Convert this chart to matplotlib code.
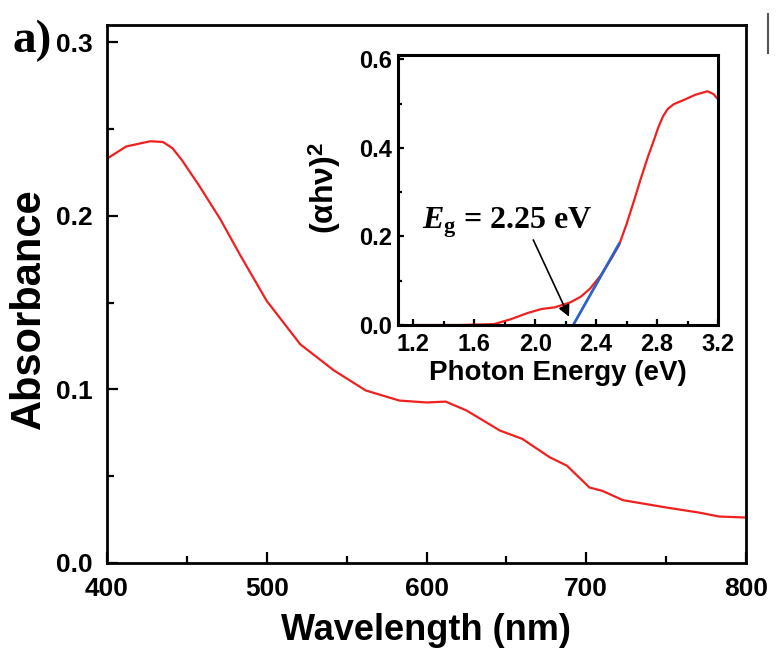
import matplotlib
matplotlib.use('Agg')
import matplotlib.pyplot as plt
from matplotlib.lines import Line2D
from matplotlib.ticker import MultipleLocator, FormatStrFormatter

plt.rcParams['font.family'] = ['Liberation Sans', 'DejaVu Sans']
plt.rcParams['font.weight'] = 'bold'
plt.rcParams['mathtext.fontset'] = 'custom'
plt.rcParams['mathtext.it'] = 'Liberation Serif:italic:bold'
plt.rcParams['mathtext.rm'] = 'Liberation Serif:bold'

# Espectro de absorbancia
wavelength = [400, 412, 427, 435, 441, 447, 458, 471, 483, 500, 521, 542, 562, 583, 600,
              612, 625, 646, 660, 677, 688, 702, 710, 723, 750, 771, 783, 800]
absorbance = [0.233, 0.240, 0.243, 0.2426, 0.239, 0.232, 0.217, 0.198, 0.178, 0.151, 0.126,
              0.111, 0.0994, 0.0936, 0.0925, 0.093, 0.0879, 0.0763, 0.0715, 0.061,
              0.056, 0.0435, 0.0416, 0.0362, 0.032, 0.029, 0.0268, 0.0262]

# Tauc plot (inset)
energy = [1.2, 1.5, 1.73, 1.84, 1.95, 2.04, 2.13, 2.23, 2.30, 2.36, 2.43, 2.50, 2.55,
          2.60, 2.65, 2.69, 2.74, 2.78, 2.81, 2.84, 2.87, 2.91, 2.98, 3.05, 3.13, 3.17, 3.2]
tauc = [0.0, 0.0, 0.002, 0.013, 0.027, 0.036, 0.040, 0.051, 0.064, 0.082, 0.112, 0.150,
        0.180, 0.228, 0.282, 0.327, 0.38, 0.418, 0.448, 0.472, 0.488, 0.499, 0.509, 0.52,
        0.528, 0.522, 0.51]

# Ajuste lineal del borde
fit_x = [2.25, 2.55]
fit_y = [0.0, 0.183]
eg = 2.25

W, H = 782, 670
fig = plt.figure(figsize=(W / 100, H / 100), dpi=100)

red = '#f02020'
blue = '#2a62c8'

# Plot principal
ax = fig.add_axes([107 / W, 1 - 563 / H, 639 / W, 538 / H])
ax.plot(wavelength, absorbance, color=red, lw=1.6)
ax.set_xlim(400, 800)
ax.set_ylim(0, 0.31)
ax.xaxis.set_major_locator(MultipleLocator(100))
ax.xaxis.set_minor_locator(MultipleLocator(50))
ax.yaxis.set_major_locator(MultipleLocator(0.1))
ax.yaxis.set_minor_locator(MultipleLocator(0.05))
ax.yaxis.set_major_formatter(FormatStrFormatter('%.1f'))
ax.tick_params(which='both', direction='in', width=1.6, top=False, right=False)
ax.tick_params(which='major', length=8, pad=10, labelsize=19)
ax.tick_params(which='minor', length=5)
for s in ax.spines.values():
    s.set_linewidth(2)

fig.text(29 / W, 1 - 309 / H, 'Absorbance', rotation=90, ha='center', va='center',
         fontsize=30, fontweight='bold')
fig.text(426 / W, 1 - 630 / H, 'Wavelength (nm)', ha='center', va='center',
         fontsize=26, fontweight='bold')
fig.text(12 / W, 1 - 52 / H, 'a)', ha='left', va='baseline', fontsize=34,
         fontweight='bold', family='Liberation Serif')
fig.add_artist(Line2D([768 / W, 768 / W], [1 - 14 / H, 1 - 53 / H], color='#555555', lw=1.5))

# Inset
axi = fig.add_axes([398 / W, 1 - 325 / H, 320 / W, 270 / H])
axi.plot(energy, tauc, color=red, lw=1.6)
axi.plot(fit_x, fit_y, color=blue, lw=2)
axi.set_xlim(1.1, 3.2)
axi.set_ylim(0, 0.61)
axi.xaxis.set_major_locator(MultipleLocator(0.4))
axi.xaxis.set_minor_locator(MultipleLocator(0.2))
axi.yaxis.set_major_locator(MultipleLocator(0.2))
axi.yaxis.set_minor_locator(MultipleLocator(0.1))
axi.xaxis.set_major_formatter(FormatStrFormatter('%.1f'))
axi.yaxis.set_major_formatter(FormatStrFormatter('%.1f'))
axi.tick_params(which='both', direction='in', width=1.6, top=False, right=False)
axi.tick_params(which='major', length=4, labelsize=17)
axi.tick_params(axis='y', which='major', pad=4)
axi.tick_params(axis='x', which='major', pad=6)
axi.tick_params(which='minor', length=3)
for s in axi.spines.values():
    s.set_linewidth(2.2)

axi.annotate('', xy=(eg - 0.02, 0.013), xytext=(1.98, 0.198),
             arrowprops=dict(arrowstyle='-|>', color='black', lw=1.2, mutation_scale=17))
axi.text(1.26, 0.218, r'$E_{\mathregular{g}}$ = 2.25 eV', ha='left', va='baseline',
         fontsize=23, fontweight='bold', family='Liberation Serif')

fig.text(558 / W, 1 - 373 / H, 'Photon Energy (eV)', ha='center', va='center',
         fontsize=20, fontweight='bold')
fig.text(325 / W, 1 - 188 / H, r'(αhν)$^{\mathregular{2}}$', rotation=90, ha='center',
         va='center', fontsize=23, fontweight='bold')

fig.savefig('out.png', dpi=100)
